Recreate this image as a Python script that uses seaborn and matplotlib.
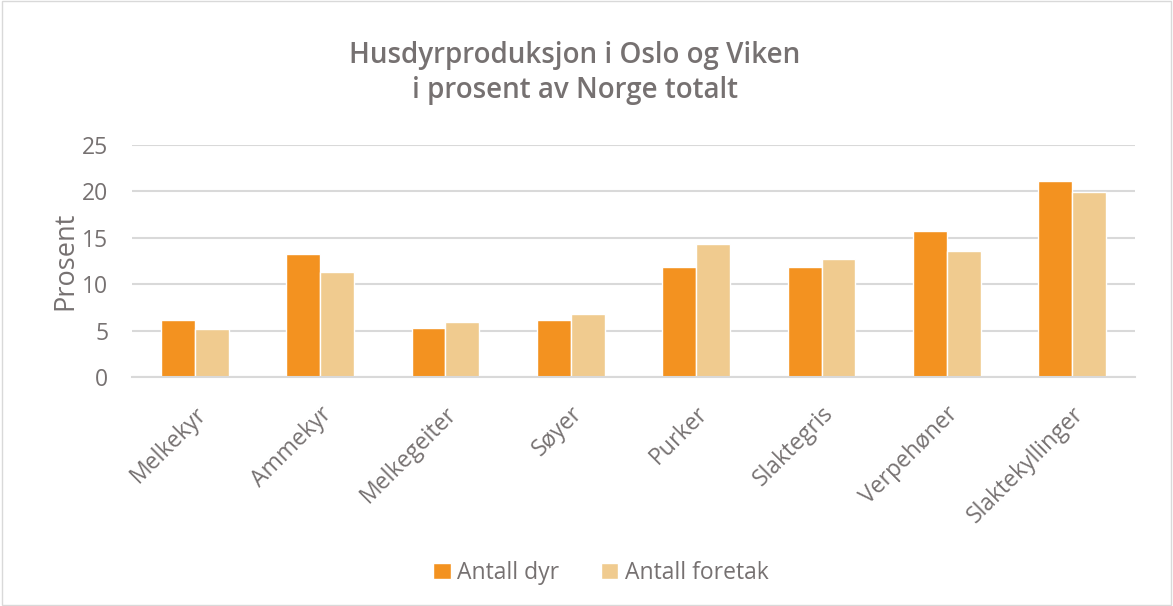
import matplotlib
matplotlib.use("Agg")
import matplotlib.pyplot as plt
import matplotlib.transforms as mtransforms
import seaborn as sns
import pandas as pd

categories = ["Melkekyr", "Ammekyr", "Melkegeiter", "Søyer", "Purker",
              "Slaktegris", "Verpehøner", "Slaktekyllinger"]
antall_dyr = [6.1, 13.3, 5.3, 6.1, 11.9, 11.8, 15.7, 21.1]
antall_foretak = [5.2, 11.3, 5.9, 6.8, 14.3, 12.7, 13.6, 19.9]
series = ["Antall dyr", "Antall foretak"]
yticks = [0, 5, 10, 15, 20, 25]

df = pd.DataFrame({
    "Kategori": categories * 2,
    "Prosent": antall_dyr + antall_foretak,
    "Serie": [series[0]] * len(categories) + [series[1]] * len(categories),
})

sns.set_theme(style="white")
plt.rcParams["font.family"] = ["Open Sans", "DejaVu Sans"]
txt = "#767171"

fig = plt.figure(figsize=(11.73, 6.06), dpi=100)
ax = fig.add_axes([132 / 1173, 1 - 377 / 606, 1003 / 1173, 232 / 606])

sns.barplot(data=df, x="Kategori", y="Prosent", hue="Serie", hue_order=series,
            palette=["#F39220", "#F0CB8F"], width=0.54, gap=0, ax=ax,
            saturation=1, legend=True)

ax.set_ylim(0, 25)
ax.set_yticks(yticks)
ax.set_xlim(-0.5, len(categories) - 0.5)
ax.yaxis.grid(True, color="#D9D9D9", linewidth=1.5)
ax.set_axisbelow(True)
for s in ["top", "right", "left"]:
    ax.spines[s].set_visible(False)
ax.spines["bottom"].set_color("#D9D9D9")
ax.spines["bottom"].set_linewidth(1.5)
ax.tick_params(axis="both", length=0, colors=txt, labelsize=16.5)
ax.tick_params(axis="y", pad=17)
ax.set_xticks(range(len(categories)))
ax.set_xticklabels(categories, rotation=45, ha="right", va="center", rotation_mode="anchor")
ax.tick_params(axis="x", pad=24)
offset = mtransforms.ScaledTranslation(8 / 100, 0, fig.dpi_scale_trans)
for lbl in ax.get_xticklabels():
    lbl.set_transform(lbl.get_transform() + offset)
ax.set_xlabel("")
ax.set_ylabel("Prosent", color=txt, fontsize=19.5, labelpad=2)

fig.text(575 / 1173, 1 - 73 / 606, "Husdyrproduksjon i Oslo og Viken\ni prosent av Norge totalt",
         ha="center", va="center", fontsize=20, fontweight="semibold", color=txt,
         linespacing=1.3)

leg = ax.legend(loc="center", bbox_to_anchor=(601 / 1173, 1 - 573 / 606), bbox_transform=fig.transFigure,
                ncol=2, frameon=False, fontsize=16.5, handlelength=0.75, handleheight=0.75,
                handletextpad=0.3, columnspacing=1.8)
for t in leg.get_texts():
    t.set_color(txt)

fig.patches.append(plt.Rectangle((0.002, 0.002), 0.996, 0.996, transform=fig.transFigure,
                                 fill=False, edgecolor="#D9D9D9", linewidth=1))

fig.savefig("out.png", dpi=100, facecolor="white")
